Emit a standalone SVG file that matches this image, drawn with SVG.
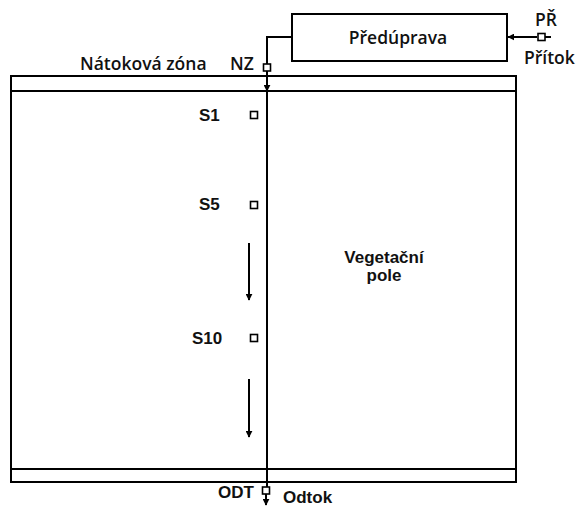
<svg xmlns="http://www.w3.org/2000/svg" width="578" height="506" viewBox="0 0 578 506">
<style>
.l{fill:none;stroke:#000;stroke-width:2}
.t{font-family:"Liberation Sans",Arial,sans-serif;font-weight:bold;font-size:17px;fill:#111}
.o{font-family:"Open Sans","Liberation Sans",sans-serif;font-weight:600;font-size:17.5px;fill:#111}
.sq{fill:#fff;stroke:#000;stroke-width:1.6}
</style>
<defs>
<marker id="ah" viewBox="0 0 10 10" refX="9" refY="5" markerWidth="7" markerHeight="7" markerUnits="userSpaceOnUse" orient="auto"><path d="M0,0 L10,5 L0,10 Z" fill="#000"/></marker>
</defs>
<rect width="578" height="506" fill="#fff"/>
<g id="pole">
<rect class="l" x="11" y="76" width="505" height="406"/>
<line class="l" x1="11" y1="91" x2="516" y2="91"/>
<line class="l" x1="11" y1="469" x2="516" y2="469"/>
<text class="t" x="384" y="263" text-anchor="middle">Vegetační</text>
<text class="t" x="384" y="281" text-anchor="middle">pole</text>
</g>
<g id="predupr">
<rect class="l" x="292" y="14" width="215" height="47"/>
<text class="o" x="398" y="44" text-anchor="middle">Předúprava</text>
</g>
<g id="connectors">
<polyline class="l" points="292,37 267,37 267,64"/>
<line class="l" x1="267" y1="71" x2="267" y2="91" marker-end="url(#ah)"/>
<line class="l" x1="267" y1="91" x2="267" y2="487"/>
<line class="l" x1="266" y1="494" x2="266" y2="505" marker-end="url(#ah)"/>
<line class="l" x1="537" y1="37" x2="508" y2="37" marker-end="url(#ah)"/>
<line class="l" x1="545" y1="37" x2="551" y2="37"/>
<line class="l" stroke-width="1.5" x1="249" y1="243" x2="249" y2="300" marker-end="url(#ah)"/>
<line class="l" stroke-width="1.5" x1="249" y1="379" x2="249" y2="437" marker-end="url(#ah)"/>
</g>
<g id="NZ">
<rect class="sq" x="263.5" y="64" width="7" height="7"/>
<text class="o" x="230" y="70">NZ</text>
<text class="o" x="80" y="70">Nátoková zóna</text>
</g>
<g id="PR">
<rect class="sq" x="538" y="33.5" width="7" height="7"/>
<text class="o" x="535" y="26">PŘ</text>
<text class="o" x="524" y="64">Přítok</text>
</g>
<g id="S1">
<rect class="sq" x="250.5" y="111.5" width="7" height="7"/>
<text class="t" x="199" y="121">S1</text>
</g>
<g id="S5">
<rect class="sq" x="250.5" y="201.5" width="7" height="7"/>
<text class="t" x="199" y="210">S5</text>
</g>
<g id="S10">
<rect class="sq" x="250.5" y="334.5" width="7" height="7"/>
<text class="t" x="192" y="344">S10</text>
</g>
<g id="ODT">
<rect class="sq" x="262.5" y="487" width="7" height="7"/>
<text class="t" x="218" y="498">ODT</text>
<text class="t" x="283" y="503">Odtok</text>
</g>
</svg>
